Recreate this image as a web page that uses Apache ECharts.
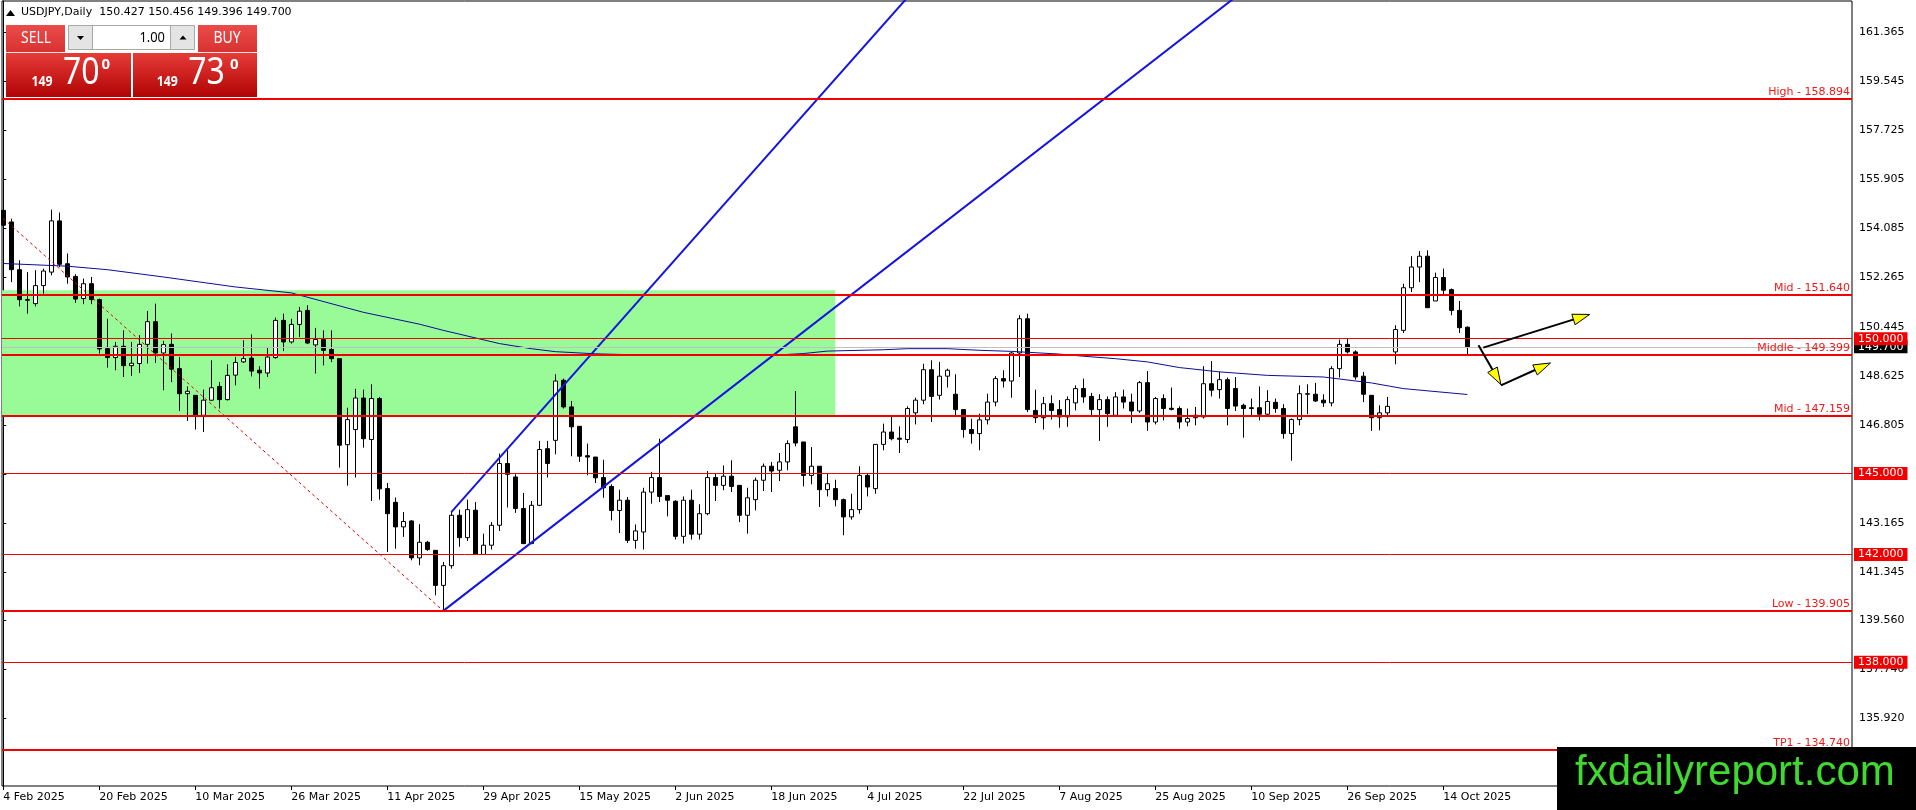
<!DOCTYPE html>
<html><head><meta charset="utf-8">
<script src="https://cdn.jsdelivr.net/npm/echarts@6/dist/echarts.min.js"></script>
<style>html,body{margin:0;padding:0;background:#fff;overflow:hidden}#c{width:1916px;height:810px}</style>
</head><body><div id="c"></div>
<script>
const symbolName = 'USDJPY,Daily';
const tickIdx = [0,12,24,36,48,60,72,84,96,108,120,132,144,156,168,180];
const tickLabels = ['4 Feb 2025','20 Feb 2025','10 Mar 2025','26 Mar 2025','11 Apr 2025','29 Apr 2025','15 May 2025','2 Jun 2025','18 Jun 2025','4 Jul 2025','22 Jul 2025','7 Aug 2025','25 Aug 2025','10 Sep 2025','26 Sep 2025','14 Oct 2025'];
const yTicks = [161.365,159.545,157.725,155.905,154.085,152.265,150.445,148.625,146.805,144.985,143.165,141.345,139.560,137.740,135.920];

const open = [154.76,154.33,152.56,151.45,151.30,151.97,152.47,154.37,152.78,152.31,
151.49,152.04,151.45,149.63,149.30,149.72,149.00,149.08,149.79,150.63,
149.47,149.79,148.89,147.96,147.90,147.16,147.72,148.23,147.74,148.65,
149.14,149.28,148.83,148.73,149.30,150.68,149.88,150.53,151.05,149.77,
149.97,149.60,149.26,146.07,146.63,147.80,146.26,147.78,144.44,143.93,
143.02,143.24,141.87,142.45,142.15,140.85,141.58,143.45,142.62,143.64,
142.00,142.34,143.08,145.37,144.87,143.70,142.40,143.82,145.92,146.23,
148.46,147.47,146.75,145.66,145.61,144.85,144.52,143.63,144.01,142.52,
142.83,144.31,144.85,144.18,143.97,142.67,144.01,142.75,143.51,144.85,
144.56,144.90,144.56,143.45,144.03,144.75,145.27,145.12,145.43,146.73,
146.17,144.93,145.27,144.40,144.44,144.03,143.39,143.66,144.93,144.44,
146.08,146.54,146.31,146.26,147.25,147.72,148.85,147.90,148.61,147.94,
147.37,146.63,146.48,146.99,147.65,148.52,148.43,149.47,150.74,147.34,
147.07,147.59,147.37,147.10,147.62,148.15,147.86,147.37,147.74,147.16,
147.84,147.65,147.32,148.37,146.91,147.78,147.42,147.41,146.91,147.07,
147.10,148.33,148.11,148.48,148.15,147.53,147.44,147.44,147.20,147.64,
147.41,146.48,147.00,147.94,147.94,147.72,147.62,148.89,149.79,149.51,
148.61,147.90,147.07,147.25,149.51,150.31,151.89,152.66,153.06,151.40,
152.27,151.82,151.05,150.427];
const high = [155.53,154.45,152.91,152.47,152.54,152.60,154.79,154.68,153.16,152.39,
152.23,152.29,151.49,150.74,149.88,150.31,149.88,150.13,151.03,151.30,
149.92,150.19,149.32,148.23,147.90,148.11,149.20,148.39,149.05,149.32,
149.94,150.16,148.98,149.69,150.78,150.93,150.74,151.18,151.24,150.40,
150.31,150.31,149.26,147.44,148.14,148.11,148.31,147.84,144.65,144.11,
143.57,143.27,143.12,142.50,142.15,141.72,143.57,143.66,144.03,143.94,
142.77,143.20,145.74,145.86,144.97,144.28,143.98,146.21,146.21,148.68,
148.52,147.69,146.75,146.11,145.61,145.51,144.60,144.40,144.13,143.11,
144.47,145.06,146.29,144.18,144.01,144.15,144.40,143.86,145.09,144.99,
145.30,145.49,144.56,144.47,144.85,145.37,145.43,145.76,146.23,148.06,
146.17,145.98,145.27,144.99,144.77,144.07,144.25,145.27,144.99,146.08,
146.85,147.12,146.75,147.49,147.81,149.07,149.20,149.14,148.89,148.68,
147.37,147.03,147.22,147.96,148.61,148.83,149.51,150.87,150.93,148.11,
147.84,147.90,147.72,147.86,148.27,148.52,147.99,147.94,147.86,148.02,
148.11,147.96,148.43,148.80,147.84,147.94,148.19,147.49,147.41,147.47,
148.98,149.17,148.77,148.56,148.58,147.59,147.78,148.23,148.09,147.78,
147.57,147.04,148.27,148.31,148.36,147.94,148.98,149.97,150.00,149.57,
148.77,147.90,147.53,147.84,150.50,152.04,153.06,153.25,153.28,152.45,
152.60,151.86,151.40,150.456];
const low = [154.14,152.10,151.20,150.93,151.20,151.67,152.35,152.66,152.04,151.33,
151.28,151.28,149.45,148.93,148.83,148.58,148.62,148.73,149.08,149.10,
148.09,148.39,147.32,146.95,146.63,146.54,147.69,147.41,147.71,148.27,
149.10,148.60,148.15,148.58,149.26,149.54,149.82,150.06,149.80,148.71,
149.01,149.13,145.22,144.55,144.85,145.96,143.98,144.03,142.09,142.21,
142.65,141.78,141.60,142.13,140.48,139.905,141.47,142.28,142.50,142.00,
141.98,142.18,142.87,143.74,143.54,142.38,142.38,143.79,144.85,145.71,
147.41,145.64,145.43,144.93,144.65,144.10,143.26,142.79,142.42,142.21,
142.18,143.88,143.94,143.41,142.55,142.40,142.55,142.55,143.45,143.98,
144.38,144.31,143.20,142.77,143.63,144.35,144.31,144.72,145.12,146.01,
144.52,144.60,143.76,144.15,143.78,142.71,143.29,143.51,144.15,144.25,
145.86,146.23,145.76,146.13,146.82,147.57,146.91,147.74,148.19,147.12,
146.33,146.11,145.86,146.82,147.49,148.19,147.81,148.58,147.28,146.87,
146.63,147.00,146.70,146.73,147.34,147.62,147.10,146.21,146.73,147.10,
147.41,146.87,147.25,146.58,146.82,146.97,147.34,146.66,146.75,146.79,
147.04,147.86,147.78,146.79,147.32,146.33,147.10,146.97,147.16,147.25,
146.29,145.47,146.79,147.20,147.65,147.47,147.49,148.56,149.45,148.48,
147.65,146.58,146.60,147.12,149.05,150.21,151.73,152.10,151.15,151.40,
151.61,150.87,150.21,149.396];
const close = [154.21,152.56,151.45,151.43,151.97,152.51,154.37,152.76,152.29,151.47,
152.04,151.45,149.62,149.30,149.72,149.00,149.09,149.79,150.63,149.47,
149.78,148.87,147.96,148.05,147.16,147.72,148.18,147.74,148.64,149.12,
149.26,148.80,148.73,149.32,150.68,149.88,150.53,151.02,149.84,149.97,
149.57,149.26,146.05,147.00,147.80,146.29,147.78,144.43,143.51,143.02,
143.22,141.87,142.45,142.18,140.85,141.58,143.45,142.62,143.66,142.00,
142.34,143.08,145.37,144.97,143.70,142.40,143.82,145.89,145.37,148.43,
147.47,146.73,145.64,145.61,144.84,144.47,143.63,144.01,142.52,142.87,
144.31,144.85,144.15,144.01,142.67,144.01,142.75,143.51,144.85,144.56,
144.90,144.52,143.45,144.10,144.75,145.27,145.09,145.43,146.11,146.13,
144.93,145.27,144.40,144.62,144.03,143.39,143.66,144.93,144.50,146.08,
146.54,146.29,146.27,147.41,147.72,148.85,147.86,148.61,148.83,147.37,
146.63,146.48,146.99,147.65,148.52,148.43,149.47,150.74,147.37,147.07,
147.59,147.34,147.10,147.74,148.15,147.84,147.37,147.74,147.22,147.84,
147.65,147.32,148.37,146.91,147.78,147.41,147.38,146.91,147.04,147.16,
148.33,148.09,148.48,147.41,147.50,147.41,147.41,147.20,147.67,147.41,
146.48,147.00,147.96,147.96,147.69,147.62,148.89,149.79,149.51,148.58,
147.94,147.07,147.25,147.49,150.34,151.89,152.66,153.06,151.15,152.27,
151.80,151.05,150.41,149.700];

const maIdx = [0,8,13,20,29,36,45,52,55,62,66,69,74,78,81,85,90,97,100,103,110,113,118,122,126,132,135,139,143,147,152,158,165,171,175,183];
const maVal = [152.79,152.69,152.56,152.29,151.92,151.70,150.98,150.54,150.31,149.82,149.63,149.52,149.44,149.41,149.40,149.40,149.40,149.40,149.45,149.54,149.59,149.63,149.63,149.57,149.53,149.43,149.35,149.26,149.14,148.93,148.77,148.64,148.58,148.36,148.15,147.93];

const levels = [158.894,151.640,149.399,147.159,139.905,134.740];
const levelNames = ['High','Mid','Middle','Mid','Low','TP1'];
const roundLevels = [150.000,145.000,142.000,138.000];
const bidPrice = 149.700, askPrice = 149.730;
const zoneTop = 151.80, zoneBottom = 147.159, zoneEndIdx = 104;
const fanLow = [[55,139.905],[165,165.194]];
const fanSteep = [[56,143.57],[130,168.34]];
const dashLine = [[0,154.455],[55,139.905]];
const arrows = [[185.0,149.67,198.3,150.90],[184.4,149.76,187.2,148.30],[187.2,148.27,193.4,149.10]];

const xMin = -0.1625, xMax = 231.0875, yMin = 133.409, yMax = 162.526;
const FF = 'DejaVu Sans';
const RED = '#f00000';

const candles = open.map((o,i)=>[i, o, close[i], low[i], high[i]]);
const last = open.length - 1;

const ml = [];
ml.push({yAxis: bidPrice, lineStyle:{color:'#c0c0c0', width:1, type:'solid'},
  label:{show:true, position:'end', distance:2, formatter: bidPrice.toFixed(3), color:'#fff', backgroundColor:'#000', padding:[1,4,1,4], fontSize:11, fontFamily:FF}});
levels.forEach((v,i)=>ml.push({yAxis:v, lineStyle:{color:RED, width:2, type:'solid'},
  label:{show:true, position:'insideEndTop', distance:[2,1], formatter: levelNames[i]+' - '+v.toFixed(3), color:'#f01818', fontSize:11, fontFamily:FF}}));
roundLevels.forEach(v=>ml.push({yAxis:v, lineStyle:{color:RED, width:1, type:'solid'},
  label:{show:true, position:'end', distance:2, formatter: v.toFixed(3), color:'#fff', backgroundColor:RED, padding:[1,4,1,4], fontSize:11, fontFamily:FF}}));

function grad(c1,c2){return {type:'linear',x:0,y:0,x2:0,y2:1,colorStops:[{offset:0,color:c1},{offset:1,color:c2}]};}
const bidStr = bidPrice.toFixed(3), askStr = askPrice.toFixed(3);
const headerText = symbolName + '  ' + open[last].toFixed(3) + ' ' + high[last].toFixed(3) + ' ' + low[last].toFixed(3) + ' ' + close[last].toFixed(3);

const graphics = [
  {type:'polygon', shape:{points:[[6,16],[15,16],[10.5,10]]}, style:{fill:'#000'}},
  {type:'text', x:21, y:12.5, style:{text:headerText, font:'11px "DejaVu Sans"', fill:'#000', verticalAlign:'middle'}},
  {type:'rect', shape:{x:6,y:25,width:59,height:27}, style:{fill:grad('#ea4c4a','#d83232')}},
  {type:'text', x:36, y:38.5, scaleX:0.82, style:{text:'SELL', font:'17px "Noto Sans"', fill:'#fff', align:'center', verticalAlign:'middle'}},
  {type:'line', shape:{x1:10,y1:52.5,x2:62,y2:52.5}, style:{stroke:'rgba(255,215,215,0.8)', lineWidth:1}},
  {type:'rect', shape:{x:198,y:25,width:59,height:27}, style:{fill:grad('#ea4c4a','#d83232')}},
  {type:'text', x:227, y:38.5, scaleX:0.82, style:{text:'BUY', font:'17px "Noto Sans"', fill:'#fff', align:'center', verticalAlign:'middle'}},
  {type:'line', shape:{x1:202,y1:52.5,x2:254,y2:52.5}, style:{stroke:'rgba(255,215,215,0.8)', lineWidth:1}},
  {type:'rect', shape:{x:68.5,y:25.5,width:126,height:24}, style:{fill:'#fff', stroke:'#a8a8a8', lineWidth:1}},
  {type:'rect', shape:{x:68.5,y:25.5,width:24,height:24}, style:{fill:'#e4e4e4', stroke:'#a8a8a8', lineWidth:1}},
  {type:'rect', shape:{x:170.5,y:25.5,width:24,height:24}, style:{fill:'#e4e4e4', stroke:'#a8a8a8', lineWidth:1}},
  {type:'polygon', shape:{points:[[77,36],[84,36],[80.5,40]]}, style:{fill:'#000'}},
  {type:'polygon', shape:{points:[[179.5,39.5],[186.5,39.5],[183,35.5]]}, style:{fill:'#000'}},
  {type:'text', x:165, y:37.5, scaleX:0.86, style:{text:'1.00', font:'15px "Noto Sans"', fill:'#000', align:'right', verticalAlign:'middle'}},
  {type:'rect', shape:{x:6,y:53,width:125,height:44}, style:{fill:grad('#e63c38','#b00404')}},
  {type:'rect', shape:{x:133,y:53,width:124,height:44}, style:{fill:grad('#e63c38','#b00404')}},
  {type:'text', x:31.5, y:82, scaleX:0.88, style:{text:bidStr.slice(0,3), font:'bold 14px "Noto Sans"', fill:'#fff', verticalAlign:'middle'}},
  {type:'text', x:63, y:73, scaleX:0.82, style:{text:bidStr.slice(4,6), font:'39px "Noto Sans"', fill:'#fff', verticalAlign:'middle'}},
  {type:'text', x:101.5, y:65, style:{text:bidStr.slice(6,7), font:'bold 15px "Noto Sans"', fill:'#fff', verticalAlign:'middle'}},
  {type:'text', x:156.7, y:82, scaleX:0.88, style:{text:askStr.slice(0,3), font:'bold 14px "Noto Sans"', fill:'#fff', verticalAlign:'middle'}},
  {type:'text', x:188.3, y:73, scaleX:0.82, style:{text:askStr.slice(4,6), font:'39px "Noto Sans"', fill:'#fff', verticalAlign:'middle'}},
  {type:'text', x:230, y:65, style:{text:askStr.slice(6,7), font:'bold 15px "Noto Sans"', fill:'#fff', verticalAlign:'middle'}},
  {type:'rect', shape:{x:1557,y:747,width:359,height:63}, style:{fill:'#000'}},
  {type:'text', x:1575, y:773, style:{text:'fxdailyreport.com', font:'42px "Liberation Sans"', fill:'#3fd92f', verticalAlign:'middle'}}
].map(g=>Object.assign({z:100, silent:true}, g));

const chart = echarts.init(document.getElementById('c'), null, {renderer:'canvas'});
chart.setOption({
  animation:false,
  backgroundColor:'#fff',
  textStyle:{fontFamily:FF},
  grid:{left:2, top:1, width:1850, height:785, show:true, borderColor:'#000', borderWidth:1, backgroundColor:'#fff'},
  xAxis:{type:'value', min:xMin, max:xMax, position:'bottom',
    axisLine:{show:false}, splitLine:{show:false},
    axisTick:{show:true, customValues:tickIdx, length:4, lineStyle:{color:'#000'}},
    axisLabel:{show:true, customValues:tickIdx, align:'left', margin:6, color:'#000', fontSize:11, fontFamily:FF,
      formatter:function(v){const k=tickIdx.indexOf(Math.round(v));return k>=0?tickLabels[k]:'';}}},
  yAxis:{type:'value', position:'right', min:yMin, max:yMax,
    axisLine:{show:true, lineStyle:{color:'#000'}}, splitLine:{show:false},
    axisTick:{show:true, customValues:yTicks, length:3, lineStyle:{color:'#000'}},
    axisLabel:{show:true, customValues:yTicks, margin:7, color:'#000', fontSize:11, fontFamily:FF,
      formatter:function(v){return v.toFixed(3);}}},
  series:[
    {type:'candlestick', name:'USDJPY', data:candles, encode:{x:0, y:[1,2,3,4]}, barWidth:4, z:2, silent:true,
      itemStyle:{color:'#fff', color0:'#000', borderColor:'#000', borderColor0:'#000', borderWidth:1},
      markArea:{silent:true, itemStyle:{color:'#98fb98'}, data:[[{coord:[xMin, zoneTop]},{coord:[zoneEndIdx, zoneBottom]}]]}},
    {type:'line', name:'MA', data:maIdx.map((x,i)=>[x, maVal[i]]), symbol:'none', showSymbol:false, z:3, silent:true,
      lineStyle:{color:'#0c0c96', width:1}},
    {type:'line', name:'dash', data:dashLine, symbol:'none', showSymbol:false, z:3, silent:true,
      lineStyle:{color:'#e00000', width:1, type:[3,3]}},
    {type:'line', name:'fanLow', data:fanLow, symbol:'none', showSymbol:false, z:3, silent:true,
      lineStyle:{color:'#1414e0', width:2}},
    {type:'line', name:'fanSteep', data:fanSteep, symbol:'none', showSymbol:false, z:3, silent:true,
      lineStyle:{color:'#1414e0', width:2}},
    {type:'line', name:'levels', data:[], clip:false, silent:true, z:5,
      markLine:{silent:true, symbol:['none','none'], animation:false, data:ml}},
    {type:'custom', name:'arrows', data:arrows, encode:{x:[0,2], y:[1,3]}, z:6, silent:true,
      renderItem:function(params, api){
        const p1 = api.coord([api.value(0), api.value(1)]);
        const p2 = api.coord([api.value(2), api.value(3)]);
        const dx = p2[0]-p1[0], dy = p2[1]-p1[1];
        const len = Math.sqrt(dx*dx+dy*dy) || 1;
        const ux = dx/len, uy = dy/len;
        const hl = 17, hw = 5.5;
        const bx = p2[0]-ux*hl, by = p2[1]-uy*hl;
        const nx = -uy, ny = ux;
        return {type:'group', children:[
          {type:'line', shape:{x1:p1[0], y1:p1[1], x2:bx+ux*3, y2:by+uy*3}, style:{stroke:'#000', lineWidth:2}},
          {type:'polygon', shape:{points:[[p2[0],p2[1]],[bx+nx*hw,by+ny*hw],[bx-nx*hw,by-ny*hw]]}, style:{fill:'#ffff00', stroke:'#000', lineWidth:1}}
        ]};
      }}
  ],
  graphic:{elements:graphics}
});
</script>
</body></html>
